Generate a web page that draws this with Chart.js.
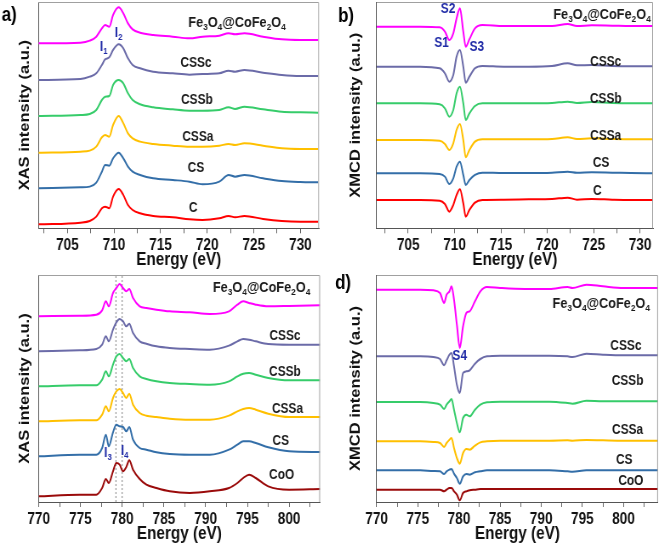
<!DOCTYPE html>
<html>
<head>
<meta charset="utf-8">
<script src="https://cdn.jsdelivr.net/npm/chart.js@4.4.1/dist/chart.umd.min.js"></script>
<style>
  html, body { margin: 0; padding: 0; background: #fff; }
  #fig { position: relative; width: 661px; height: 546px; overflow: hidden; }
  #fig canvas { position: absolute; transform: scaleX(0.85); transform-origin: 0 0; }
</style>
</head>
<body>
<div id="fig">
  <canvas id="panelA" width="388" height="273" style="left:0;top:0"></canvas>
  <canvas id="panelB" width="389" height="273" style="left:330px;top:0"></canvas>
  <canvas id="panelC" width="388" height="273" style="left:0;top:273px"></canvas>
  <canvas id="panelD" width="389" height="273" style="left:330px;top:273px"></canvas>
</div>
<script>
// ---- data (intensities in arbitrary units, curves already stacked) ----
const sampleNames = ["Fe3O4@CoFe2O4", "CSSc", "CSSb", "CSSa", "CS", "C", "CoO"];

// a) Fe L-edge XAS
const feXasEnergy = [701.9, 706.4, 707.4, 708.1, 708.7, 709.05, 709.5, 709.9, 710.5, 711.0, 711.5, 712.0, 712.8, 714.2, 716.3, 718.1, 719.5, 721.3, 722.3, 723.0, 724.0, 726.0, 728.0, 730.0, 731.9];
const feXasFeCo = [555, 557, 563, 575, 600, 610, 605, 640, 663, 645, 615, 597, 587, 580, 575, 570, 575, 578, 585, 582, 585, 575, 567, 565, 565];
const feXasCSSc = [445, 448, 455, 465, 490, 507, 513, 535, 552, 540, 510, 490, 480, 470, 465, 461, 463, 465, 473, 470, 475, 467, 460, 457, 457];
const feXasCSSb = [337, 340, 343, 355, 385, 395, 397, 430, 445, 435, 405, 385, 372, 363, 357, 353, 353, 355, 363, 358, 365, 357, 350, 348, 347];
const feXasCSSa = [227, 230, 233, 245, 273, 280, 275, 310, 337, 315, 285, 270, 260, 253, 248, 245, 245, 248, 253, 250, 255, 248, 240, 238, 238];
const feXasCS   = [120, 123, 125, 137, 170, 190, 188, 210, 227, 210, 185, 170, 160, 150, 145, 140, 132, 140, 160, 155, 160, 150, 142, 139, 138];
const feXasC    = [12, 17, 22, 35, 60, 65, 60, 95, 118, 100, 70, 55, 45, 37, 33, 27, 25, 30, 37, 33, 37, 28, 22, 20, 20];

// b) Fe L-edge XMCD
const feXmcdEnergy = [701.6, 706.3, 708.4, 708.96, 709.43, 709.86, 710.22, 710.58, 710.94, 711.2, 711.6, 712.2, 713.0, 715.3, 718.0, 720.5, 722.2, 723.2, 724.8, 727.0, 729.0, 731.4];
const feXmcdFeCo = [605, 605, 603, 590, 565, 585, 630, 660, 590, 545, 567, 600, 610, 607, 607, 607, 613, 607, 609, 608, 607, 607];
const feXmcdCSSc = [485, 485, 480, 465, 440, 460, 515, 535, 485, 437, 455, 480, 487, 485, 485, 487, 495, 489, 490, 487, 486, 486];
const feXmcdCSSb = [375, 375, 372, 360, 335, 355, 405, 425, 375, 325, 345, 367, 375, 375, 375, 376, 380, 376, 379, 376, 375, 375];
const feXmcdCSSa = [265, 265, 263, 253, 235, 255, 295, 313, 265, 213, 235, 260, 267, 267, 267, 268, 273, 268, 270, 268, 267, 267];
const feXmcdCS   = [165, 165, 163, 155, 133, 150, 185, 200, 160, 130, 145, 160, 167, 166, 166, 167, 170, 167, 168, 167, 166, 165];
const feXmcdC    = [85, 85, 83, 73, 50, 70, 100, 117, 75, 35, 55, 77, 85, 86, 87, 88, 92, 86, 88, 86, 85, 85];

// c) Co L-edge XAS
const coXasEnergy = [770, 774.9, 776.9, 777.6, 778.05, 778.4, 778.9, 779.3, 779.7, 780.1, 780.5, 780.85, 781.3, 782.1, 782.9, 784.1, 785.7, 788.1, 790.5, 792.8, 793.8, 794.5, 795.2, 796.0, 797.5, 800.0, 803.7];
const coXasFeCo = [557, 559, 562, 575, 602, 587, 627, 642, 654, 642, 632, 639, 612, 587, 582, 577, 572, 569, 564, 572, 592, 602, 597, 592, 587, 588, 590];
const coXasCSSc = [452, 455, 459, 472, 497, 482, 517, 539, 549, 542, 527, 535, 507, 482, 475, 467, 462, 459, 457, 469, 482, 489, 487, 482, 474, 472, 472];
const coXasCSSb = [347, 350, 350, 367, 392, 377, 412, 437, 444, 432, 422, 429, 402, 377, 369, 362, 357, 354, 352, 362, 377, 385, 387, 382, 372, 365, 365];
const coXasCSSa = [242, 245, 245, 262, 287, 272, 312, 332, 339, 327, 312, 325, 292, 267, 259, 255, 250, 247, 247, 259, 272, 279, 282, 277, 265, 255, 255];
const coXasCS   = [137, 142, 142, 162, 202, 167, 209, 232, 227, 225, 212, 225, 187, 162, 157, 149, 144, 142, 142, 157, 172, 182, 182, 177, 164, 152, 150];
const coXasCoO  = [17, 22, 22, 42, 69, 57, 92, 117, 112, 92, 105, 125, 97, 69, 52, 42, 32, 27, 32, 42, 57, 72, 82, 72, 47, 37, 39];
const coXasGuides = [779.25, 780.0];

// d) Co L-edge XMCD
const coXmcdEnergy = [770, 772.8, 775.3, 776.9, 777.7, 778.2, 778.5, 778.85, 779.1, 779.4, 779.75, 780.1, 780.5, 780.9, 781.3, 781.95, 782.6, 783.4, 785.0, 788.0, 791.0, 793.2, 793.8, 795.5, 797.5, 800.0, 804.2];
const coXmcdFeCo = [637, 637, 637, 635, 627, 597, 622, 632, 647, 607, 532, 462, 527, 567, 572, 602, 632, 645, 642, 639, 639, 645, 642, 652, 647, 642, 642];
const coXmcdCSSc = [437, 437, 437, 435, 429, 410, 425, 442, 447, 407, 352, 327, 387, 392, 395, 415, 429, 437, 439, 439, 439, 437, 435, 445, 442, 440, 440];
const coXmcdCSSb = [300, 300, 300, 297, 292, 279, 292, 302, 309, 277, 237, 209, 252, 262, 257, 277, 292, 299, 301, 301, 301, 297, 295, 304, 302, 302, 302];
const coXmcdCSSa = [182, 182, 182, 180, 177, 165, 177, 187, 192, 162, 132, 115, 147, 159, 157, 169, 179, 182, 184, 184, 184, 185, 184, 186, 185, 184, 184];
const coXmcdCS   = [95, 95, 95, 93, 92, 84, 92, 97, 99, 85, 72, 55, 77, 84, 82, 89, 92, 95, 95, 95, 95, 92, 91, 95, 95, 95, 95];
const coXmcdCoO  = [37, 37, 37, 37, 37, 32, 37, 42, 42, 32, 22, 5, 27, 32, 35, 37, 39, 39, 39, 39, 39, 39, 39, 39, 39, 39, 39];

// ---- styling ----
const FONT = '"Liberation Sans", Arial, Helvetica, sans-serif';
const colors = {
  "Fe3O4@CoFe2O4": "#ff00ff", CSSc: "#6b6ba8", CSSb: "#36cc6a",
  CSSa: "#ffc000", CS: "#336ea8", C: "#ff0000", CoO: "#9a0a0a"
};
const NAVY = "#1f2aa6";
const FE_CO_TEXT = [["Fe", 0], ["3", 1], ["O", 0], ["4", 1], ["@CoFe", 0], ["2", 1], ["O", 0], ["4", 1]];

function points(energy, values) {
  return energy.map((e, i) => ({ x: e, y: values[i] }));
}

function drawRich(ctx, parts, cx, cy, size, weight, color) {
  ctx.fillStyle = color;
  ctx.textBaseline = "middle";
  ctx.textAlign = "left";
  let total = 0;
  const widths = parts.map(([t, sub]) => {
    ctx.font = `${weight} ${sub ? size * 0.65 : size}px ${FONT}`;
    const w = ctx.measureText(t).width;
    total += w;
    return w;
  });
  let x = cx - total / 2;
  parts.forEach(([t, sub], i) => {
    ctx.font = `${weight} ${sub ? size * 0.65 : size}px ${FONT}`;
    ctx.fillText(t, x, sub ? cy + size * 0.32 : cy);
    x += widths[i];
  });
}

const panelText = {
  id: "panelText",
  afterDraw(chart, args, opts) {
    const { ctx, chartArea: a, scales: { x, y } } = chart;
    ctx.save();
    // box: top and right edges
    ctx.strokeStyle = "#a0a0a0";
    ctx.lineWidth = 1;
    ctx.beginPath();
    ctx.moveTo(a.left, a.top + 0.5);
    ctx.lineTo(a.right - 0.5, a.top + 0.5);
    ctx.lineTo(a.right - 0.5, a.bottom);
    ctx.stroke();
    // panel letter
    ctx.fillStyle = "#000";
    ctx.font = `bold 20px ${FONT}`;
    ctx.textBaseline = "middle";
    ctx.textAlign = "left";
    ctx.fillText(opts.letter[0], opts.letter[1], opts.letter[2]);
    for (const lab of opts.labels) {
      drawRich(ctx, lab.parts, x.getPixelForValue(lab.at[0]), y.getPixelForValue(lab.at[1]),
        lab.size || 14, lab.weight || "bold", lab.color || "#1a1a1a");
    }
    ctx.restore();
  }
};

function makePanel(id, p) {
  const datasets = p.series.map(s => ({
    data: points(p.energy, s.values),
    borderColor: colors[s.name],
    borderWidth: 2,
    pointRadius: 0,
    cubicInterpolationMode: "monotone",
    fill: false
  }));
  (p.guides || []).forEach(g => datasets.push({
    data: [{ x: g, y: 0 }, { x: g, y: p.yMax }],
    borderColor: "#888",
    borderWidth: 1,
    borderDash: [2, 2],
    pointRadius: 0
  }));
  return new Chart(document.getElementById(id), {
    type: "line",
    data: { datasets },
    options: {
      responsive: false,
      animation: false,
      devicePixelRatio: 1,
      layout: { padding: { top: 2, right: p.padRight, left: 0, bottom: 0 } },
      plugins: {
        legend: { display: false },
        tooltip: { enabled: false },
        panelText: { letter: p.letter, labels: p.labels }
      },
      scales: {
        x: {
          type: "linear",
          min: p.xMin,
          max: p.xMax,
          afterFit: s => { s.height = p.xHeight; },
          ticks: {
            stepSize: 2.5, includeBounds: false, autoSkip: false, maxRotation: 0, padding: 3,
            color: "#111", font: { family: FONT, size: 16, weight: "bold" },
            callback: v => (Math.abs(v % 5) < 1e-6 ? String(v) : "")
          },
          grid: { drawOnChartArea: false, drawTicks: true, tickLength: 5, color: "#666" },
          border: { color: "#555", width: 1 },
          title: {
            display: true, text: "Energy (eV)", color: "#111",
            font: { family: FONT, size: 18, weight: "bold", lineHeight: 1 },
            padding: { top: 0, bottom: p.xTitlePad }
          }
        },
        y: {
          min: 0,
          max: p.yMax,
          afterFit: s => { s.width = p.yWidth; },
          ticks: { display: false },
          grid: { drawOnChartArea: false, drawTicks: false },
          border: { color: "#555", width: 1 },
          title: {
            display: true, text: p.yTitle, color: "#111",
            font: { family: FONT, size: 16.5, weight: "bold", lineHeight: 1 },
            padding: { top: p.yTitlePad, bottom: 0 }
          }
        }
      }
    },
    plugins: [panelText]
  });
}

const lab = (text, e, v) => ({ parts: [[text, 0]], at: [e, v] });
const mark = (main, sub, e, v) => ({ parts: [[main, 0], [sub, 1]], at: [e, v], size: 14, color: NAVY });
const feCo = (e, v) => ({ parts: FE_CO_TEXT, at: [e, v], size: 15, weight: "bold" });

makePanel("panelA", {
  letter: ["a)", 2, 15],
  energy: feXasEnergy, xMin: 701.9, xMax: 732.0, yMax: 679,
  padRight: 12.7, yWidth: 45.3, xHeight: 44.7, xTitlePad: 4, yTitlePad: 21,
  yTitle: "XAS intensity (a.u.)",
  series: [
    { name: "Fe3O4@CoFe2O4", values: feXasFeCo }, { name: "CSSc", values: feXasCSSc },
    { name: "CSSb", values: feXasCSSb }, { name: "CSSa", values: feXasCSSa },
    { name: "CS", values: feXasCS }, { name: "C", values: feXasC }
  ],
  labels: [
    feCo(723.2, 616), lab("CSSc", 718.8, 496), lab("CSSb", 718.9, 385), lab("CSSa", 719.0, 274),
    lab("CS", 718.8, 181), lab("C", 718.5, 61), mark("I", "1", 708.9, 545), mark("I", "2", 710.5, 585)
  ]
});

makePanel("panelB", {
  letter: ["b)", 9.4, 16],
  energy: feXmcdEnergy, xMin: 701.6, xMax: 731.4, yMax: 679,
  padRight: 9, yWidth: 54.9, xHeight: 44.7, xTitlePad: 4, yTitlePad: 22,
  yTitle: "XMCD intensity (a.u.)",
  series: [
    { name: "Fe3O4@CoFe2O4", values: feXmcdFeCo }, { name: "CSSc", values: feXmcdCSSc },
    { name: "CSSb", values: feXmcdCSSb }, { name: "CSSa", values: feXmcdCSSa },
    { name: "CS", values: feXmcdCS }, { name: "C", values: feXmcdC }
  ],
  labels: [
    feCo(725.9, 640), lab("CSSc", 726.3, 499), lab("CSSb", 726.3, 388), lab("CSSa", 726.3, 277),
    lab("CS", 725.8, 196), lab("C", 725.4, 112),
    { parts: [["S2", 0]], at: [709.3, 657], size: 14, color: NAVY },
    { parts: [["S1", 0]], at: [708.6, 555], size: 14, color: NAVY },
    { parts: [["S3", 0]], at: [712.4, 545], size: 14, color: NAVY }
  ]
});

makePanel("panelC", {
  letter: ["c)", 0, 283],
  energy: coXasEnergy, xMin: 770, xMax: 803.7, yMax: 681, guides: coXasGuides,
  padRight: 11.5, yWidth: 45.5, xHeight: 44, xTitlePad: 3, yTitlePad: 21,
  yTitle: "XAS intensity (a.u.)",
  series: [
    { name: "Fe3O4@CoFe2O4", values: coXasFeCo }, { name: "CSSc", values: coXasCSSc },
    { name: "CSSb", values: coXasCSSb }, { name: "CSSa", values: coXasCSSa },
    { name: "CS", values: coXasCS }, { name: "CoO", values: coXasCoO }
  ],
  labels: [
    feCo(796.7, 642), lab("CSSc", 799.5, 499), lab("CSSb", 799.5, 390), lab("CSSa", 799.8, 279),
    lab("CS", 799.0, 183), lab("CoO", 799.1, 82), mark("I", "3", 778.3, 147), mark("I", "4", 780.3, 152)
  ]
});

makePanel("panelD", {
  letter: ["d)", 5.9, 10],
  energy: coXmcdEnergy, xMin: 770, xMax: 804.2, yMax: 681,
  padRight: 3.1, yWidth: 54.9, xHeight: 44, xTitlePad: 3, yTitlePad: 22,
  yTitle: "XMCD intensity (a.u.)",
  series: [
    { name: "Fe3O4@CoFe2O4", values: coXmcdFeCo }, { name: "CSSc", values: coXmcdCSSc },
    { name: "CSSb", values: coXmcdCSSb }, { name: "CSSa", values: coXmcdCSSa },
    { name: "CS", values: coXmcdCS }, { name: "CoO", values: coXmcdCoO }
  ],
  labels: [
    feCo(797.3, 595), lab("CSSc", 800.3, 469), lab("CSSb", 800.5, 363), lab("CSSa", 800.5, 217),
    lab("CS", 800.1, 127), lab("CoO", 800.9, 62),
    { parts: [["S4", 0]], at: [780.1, 437], size: 14, color: NAVY }
  ]
});
</script>
</body>
</html>
